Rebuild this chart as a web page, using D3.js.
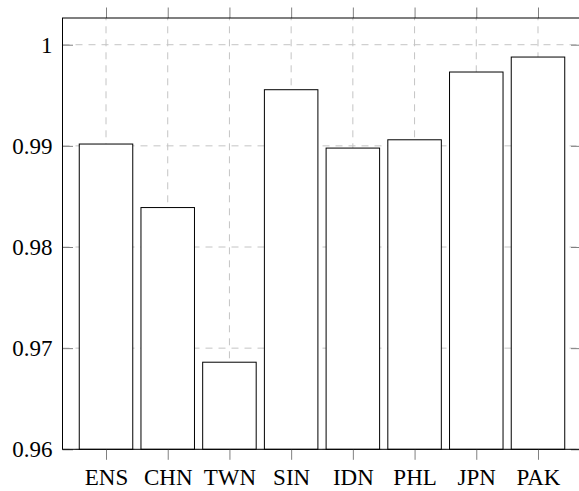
<!DOCTYPE html>
<html>
<head>
<meta charset="utf-8">
<script src="https://cdn.jsdelivr.net/npm/d3@7"></script>
<style>
  body { margin: 0; background: #fff; }
</style>
</head>
<body>
<div id="chart"></div>
<script>
// Data
var categories = ["ENS", "CHN", "TWN", "SIN", "IDN", "PHL", "JPN", "PAK"];
var values = [0.99018, 0.98390, 0.96861, 0.99555, 0.98978, 0.99060, 0.99730, 0.99878];
var yTicks = [0.96, 0.97, 0.98, 0.99, 1];
var yTickLabels = ["0.96", "0.97", "0.98", "0.99", "1"];

var svgW = 579,
    svgH = 491;

// plot frame (right edge is cut off by the picture)
var plotLeft = 62.5,
    plotRight = 581.5,
    plotTop = 18,
    plotBottom = 449.3;

var tickLen = 10.5;
var barW = 0.867;
var serif = '"Liberation Serif", "Times New Roman", serif';

var svg = d3.select("#chart")
  .append("svg")
  .attr("width", svgW)
  .attr("height", svgH);

// Scales
var xScale = d3.scaleLinear()
  .domain([-0.705, categories.length - 1 + 0.705])
  .range([plotLeft, plotRight]);

var yScale = d3.scaleLinear()
  .domain([0.96, 1.00264])
  .range([plotBottom, plotTop]);

// Grid
var grid = svg.append("g")
  .attr("stroke", "#c4c4c4")
  .attr("stroke-width", 1)
  .attr("stroke-dasharray", "7,6");

grid.selectAll(".vgrid")
  .data(categories)
  .enter()
  .append("line")
  .attr("x1", (d, i) => xScale(i))
  .attr("x2", (d, i) => xScale(i))
  .attr("y1", plotBottom)
  .attr("y2", plotTop);

grid.selectAll(".hgrid")
  .data(yTicks)
  .enter()
  .append("line")
  .attr("x1", plotLeft)
  .attr("x2", plotRight)
  .attr("y1", d => yScale(d))
  .attr("y2", d => yScale(d));

// Bars
svg.selectAll(".bar")
  .data(values)
  .enter()
  .append("rect")
  .attr("class", "bar")
  .attr("x", (d, i) => xScale(i - barW / 2))
  .attr("width", (d, i) => xScale(i + barW / 2) - xScale(i - barW / 2))
  .attr("y", d => yScale(d))
  .attr("height", d => yScale(0.96) - yScale(d))
  .attr("fill", "#fff")
  .attr("stroke", "#000")
  .attr("stroke-width", 1);

// Axes
var xPoint = d3.scalePoint()
  .domain(categories)
  .range([xScale(0), xScale(categories.length - 1)]);

var xAxis = d3.axisBottom(xPoint)
  .tickSize(tickLen)
  .tickSizeOuter(0)
  .tickPadding(8.9);

var xAxisTop = d3.axisTop(xPoint)
  .tickSize(tickLen)
  .tickSizeOuter(0)
  .tickFormat("");

var yAxis = d3.axisLeft(yScale)
  .tickValues(yTicks)
  .tickFormat((d, i) => yTickLabels[i])
  .tickSize(-tickLen)
  .tickSizeOuter(0)
  .tickPadding(10);

var yAxisRight = d3.axisRight(yScale)
  .tickValues(yTicks)
  .tickFormat("")
  .tickSize(-tickLen)
  .tickSizeOuter(0);

var gx = svg.append("g")
  .attr("transform", "translate(0," + plotBottom + ")")
  .call(xAxis);
gx.attr("font-family", serif).attr("font-size", 23);

svg.append("g")
  .attr("transform", "translate(0," + plotTop + ")")
  .call(xAxisTop);

var gy = svg.append("g")
  .attr("transform", "translate(" + plotLeft + ",0)")
  .call(yAxis);
gy.attr("font-family", serif).attr("font-size", 23);

svg.append("g")
  .attr("transform", "translate(" + plotRight + ",0)")
  .call(yAxisRight);

svg.selectAll(".domain").remove();
svg.selectAll(".tick line").attr("stroke", "#808080");
svg.selectAll(".tick text").attr("fill", "#000");

// Frame
svg.append("rect")
  .attr("x", plotLeft)
  .attr("y", plotTop)
  .attr("width", plotRight - plotLeft)
  .attr("height", plotBottom - plotTop)
  .attr("fill", "none")
  .attr("stroke", "#000")
  .attr("stroke-width", 1);
</script>
</body>
</html>
